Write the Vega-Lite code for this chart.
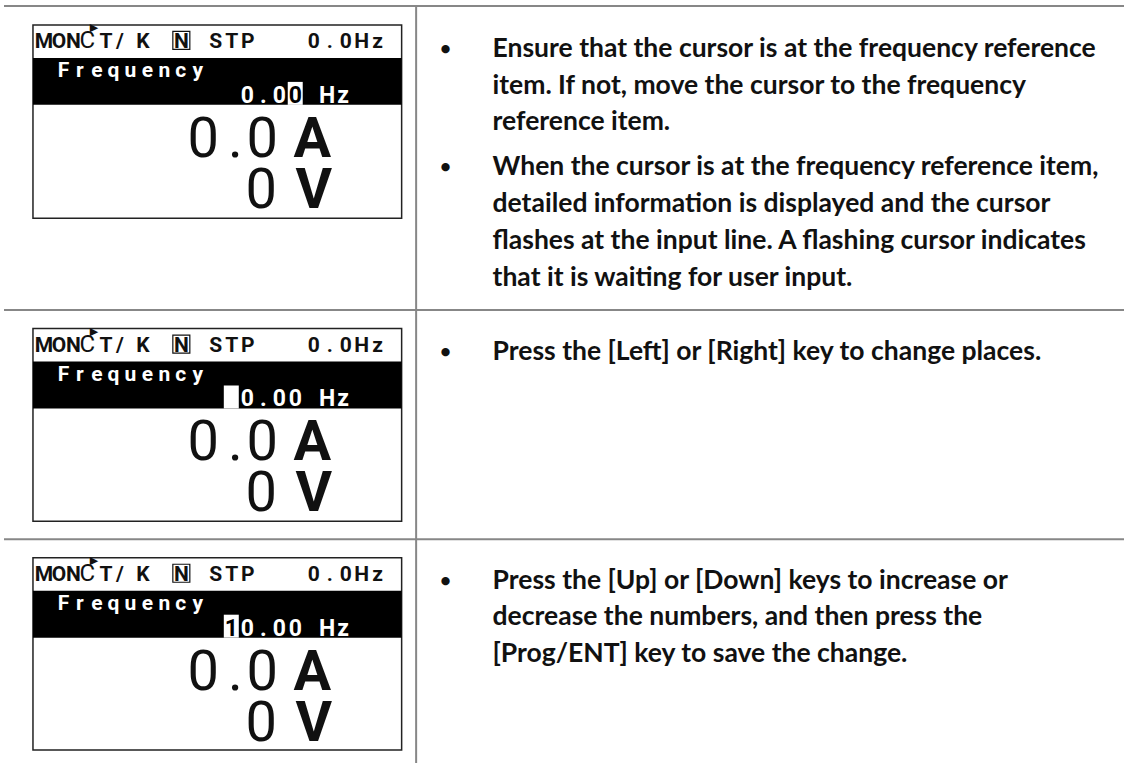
{
  "$schema": "https://vega.github.io/schema/vega-lite/v6.json",
  "width": 1125,
  "height": 764,
  "autosize": {"type": "fit", "contains": "padding"},
  "padding": 0,
  "background": "white",
  "config": {"view": {"stroke": null}},
  "datasets": {
    "boxes": [
      {"x": 33, "x2": 402, "y": 25, "y2": 218.5},
      {"x": 33, "x2": 402, "y": 329, "y2": 522},
      {"x": 33, "x2": 402, "y": 558.5, "y2": 751}
    ],
    "bands": [
      {"x": 33, "x2": 402, "y": 58, "y2": 105},
      {"x": 33, "x2": 402, "y": 362, "y2": 409},
      {"x": 33, "x2": 402, "y": 591.5, "y2": 638.5}
    ],
    "nbox": [
      {"x": 173, "x2": 190, "y": 31.5, "y2": 49.5},
      {"x": 173, "x2": 190, "y": 335.5, "y2": 353.5},
      {"x": 173, "x2": 190, "y": 565, "y2": 583}
    ],
    "cursor": [
      {"x": 288, "x2": 303, "y": 82, "y2": 105},
      {"x": 224, "x2": 239, "y": 386, "y2": 409},
      {"x": 224, "x2": 239, "y": 615.5, "y2": 638.5}
    ],
    "lines": [
      {"x": 4, "x2": 1125, "y": 6, "y2": 6},
      {"x": 4, "x2": 1125, "y": 310.5, "y2": 310.5},
      {"x": 4, "x2": 1125, "y": 540, "y2": 540},
      {"x": 416.5, "x2": 416.5, "y": 6, "y2": 764}
    ],
    "lcd": [
      {"k": "hdr", "c": "M", "x": 44, "y": 48.5},
      {"k": "hdr", "c": "O", "x": 59, "y": 48.5},
      {"k": "hdr", "c": "N", "x": 73.5, "y": 48.5},
      {"k": "arc", "c": "C", "x": 87.5, "y": 48.5},
      {"k": "tri", "c": "▶", "x": 94, "y": 28},
      {"k": "hdr", "c": "T", "x": 106, "y": 48.5},
      {"k": "hdr", "c": "/", "x": 120, "y": 48.5},
      {"k": "hdr", "c": "K", "x": 143, "y": 48.5},
      {"k": "hdr", "c": "N", "x": 181.5, "y": 48.5},
      {"k": "hdr", "c": "S", "x": 216, "y": 48.5},
      {"k": "hdr", "c": "T", "x": 232, "y": 48.5},
      {"k": "hdr", "c": "P", "x": 248, "y": 48.5},
      {"k": "hdr", "c": "0", "x": 314, "y": 48.5},
      {"k": "hdr", "c": ".", "x": 330, "y": 48.5},
      {"k": "hdr", "c": "0", "x": 346, "y": 48.5},
      {"k": "hdr", "c": "H", "x": 362, "y": 48.5},
      {"k": "hdr", "c": "z", "x": 378, "y": 48.5},
      {"k": "freq", "c": "F", "x": 63.5, "y": 77.5},
      {"k": "freq", "c": "r", "x": 80, "y": 77.5},
      {"k": "freq", "c": "e", "x": 97, "y": 77.5},
      {"k": "freq", "c": "q", "x": 113.5, "y": 77.5},
      {"k": "freq", "c": "u", "x": 130.5, "y": 77.5},
      {"k": "freq", "c": "e", "x": 147.5, "y": 77.5},
      {"k": "freq", "c": "n", "x": 164.5, "y": 77.5},
      {"k": "freq", "c": "c", "x": 181, "y": 77.5},
      {"k": "freq", "c": "y", "x": 198, "y": 77.5},
      {"k": "val", "c": "0", "x": 247.5, "y": 103},
      {"k": "val", "c": ".", "x": 263.5, "y": 103},
      {"k": "val", "c": "0", "x": 279.5, "y": 103},
      {"k": "cur", "c": "0", "x": 295.5, "y": 103},
      {"k": "val", "c": "H", "x": 327.5, "y": 103},
      {"k": "val", "c": "z", "x": 343.5, "y": 103},
      {"k": "big", "c": "0", "x": 203.5, "y": 157},
      {"k": "big", "c": ".", "x": 235.5, "y": 157},
      {"k": "big", "c": "0", "x": 262.5, "y": 157},
      {"k": "unit", "c": "A", "x": 312.5, "y": 157},
      {"k": "big", "c": "0", "x": 261.5, "y": 208},
      {"k": "unit", "c": "V", "x": 314, "y": 208},

      {"k": "hdr", "c": "M", "x": 44, "y": 352.5},
      {"k": "hdr", "c": "O", "x": 59, "y": 352.5},
      {"k": "hdr", "c": "N", "x": 73.5, "y": 352.5},
      {"k": "arc", "c": "C", "x": 87.5, "y": 352.5},
      {"k": "tri", "c": "▶", "x": 94, "y": 332},
      {"k": "hdr", "c": "T", "x": 106, "y": 352.5},
      {"k": "hdr", "c": "/", "x": 120, "y": 352.5},
      {"k": "hdr", "c": "K", "x": 143, "y": 352.5},
      {"k": "hdr", "c": "N", "x": 181.5, "y": 352.5},
      {"k": "hdr", "c": "S", "x": 216, "y": 352.5},
      {"k": "hdr", "c": "T", "x": 232, "y": 352.5},
      {"k": "hdr", "c": "P", "x": 248, "y": 352.5},
      {"k": "hdr", "c": "0", "x": 314, "y": 352.5},
      {"k": "hdr", "c": ".", "x": 330, "y": 352.5},
      {"k": "hdr", "c": "0", "x": 346, "y": 352.5},
      {"k": "hdr", "c": "H", "x": 362, "y": 352.5},
      {"k": "hdr", "c": "z", "x": 378, "y": 352.5},
      {"k": "freq", "c": "F", "x": 63.5, "y": 381.5},
      {"k": "freq", "c": "r", "x": 80, "y": 381.5},
      {"k": "freq", "c": "e", "x": 97, "y": 381.5},
      {"k": "freq", "c": "q", "x": 113.5, "y": 381.5},
      {"k": "freq", "c": "u", "x": 130.5, "y": 381.5},
      {"k": "freq", "c": "e", "x": 147.5, "y": 381.5},
      {"k": "freq", "c": "n", "x": 164.5, "y": 381.5},
      {"k": "freq", "c": "c", "x": 181, "y": 381.5},
      {"k": "freq", "c": "y", "x": 198, "y": 381.5},
      {"k": "val", "c": "0", "x": 247.5, "y": 407},
      {"k": "val", "c": ".", "x": 263.5, "y": 407},
      {"k": "val", "c": "0", "x": 279.5, "y": 407},
      {"k": "val", "c": "0", "x": 295.5, "y": 407},
      {"k": "val", "c": "H", "x": 327.5, "y": 407},
      {"k": "val", "c": "z", "x": 343.5, "y": 407},
      {"k": "big", "c": "0", "x": 203.5, "y": 461},
      {"k": "big", "c": ".", "x": 235.5, "y": 461},
      {"k": "big", "c": "0", "x": 262.5, "y": 461},
      {"k": "unit", "c": "A", "x": 312.5, "y": 461},
      {"k": "big", "c": "0", "x": 261.5, "y": 512},
      {"k": "unit", "c": "V", "x": 314, "y": 512},

      {"k": "hdr", "c": "M", "x": 44, "y": 582},
      {"k": "hdr", "c": "O", "x": 59, "y": 582},
      {"k": "hdr", "c": "N", "x": 73.5, "y": 582},
      {"k": "arc", "c": "C", "x": 87.5, "y": 582},
      {"k": "tri", "c": "▶", "x": 94, "y": 561.5},
      {"k": "hdr", "c": "T", "x": 106, "y": 582},
      {"k": "hdr", "c": "/", "x": 120, "y": 582},
      {"k": "hdr", "c": "K", "x": 143, "y": 582},
      {"k": "hdr", "c": "N", "x": 181.5, "y": 582},
      {"k": "hdr", "c": "S", "x": 216, "y": 582},
      {"k": "hdr", "c": "T", "x": 232, "y": 582},
      {"k": "hdr", "c": "P", "x": 248, "y": 582},
      {"k": "hdr", "c": "0", "x": 314, "y": 582},
      {"k": "hdr", "c": ".", "x": 330, "y": 582},
      {"k": "hdr", "c": "0", "x": 346, "y": 582},
      {"k": "hdr", "c": "H", "x": 362, "y": 582},
      {"k": "hdr", "c": "z", "x": 378, "y": 582},
      {"k": "freq", "c": "F", "x": 63.5, "y": 611},
      {"k": "freq", "c": "r", "x": 80, "y": 611},
      {"k": "freq", "c": "e", "x": 97, "y": 611},
      {"k": "freq", "c": "q", "x": 113.5, "y": 611},
      {"k": "freq", "c": "u", "x": 130.5, "y": 611},
      {"k": "freq", "c": "e", "x": 147.5, "y": 611},
      {"k": "freq", "c": "n", "x": 164.5, "y": 611},
      {"k": "freq", "c": "c", "x": 181, "y": 611},
      {"k": "freq", "c": "y", "x": 198, "y": 611},
      {"k": "cur", "c": "1", "x": 231.5, "y": 636.5},
      {"k": "val", "c": "0", "x": 247.5, "y": 636.5},
      {"k": "val", "c": ".", "x": 263.5, "y": 636.5},
      {"k": "val", "c": "0", "x": 279.5, "y": 636.5},
      {"k": "val", "c": "0", "x": 295.5, "y": 636.5},
      {"k": "val", "c": "H", "x": 327.5, "y": 636.5},
      {"k": "val", "c": "z", "x": 343.5, "y": 636.5},
      {"k": "big", "c": "0", "x": 203.5, "y": 690.5},
      {"k": "big", "c": ".", "x": 235.5, "y": 690.5},
      {"k": "big", "c": "0", "x": 262.5, "y": 690.5},
      {"k": "unit", "c": "A", "x": 312.5, "y": 690.5},
      {"k": "big", "c": "0", "x": 261.5, "y": 741.5},
      {"k": "unit", "c": "V", "x": 314, "y": 741.5}
    ],
    "notes": [
      {"k": "b", "t": "•", "x": 446, "y": 55},
      {"k": "t", "t": "Ensure that the cursor is at the frequency reference", "x": 493, "y": 57},
      {"k": "t", "t": "item. If not, move the cursor to the frequency", "x": 493, "y": 94},
      {"k": "t", "t": "reference item.", "x": 493, "y": 130},
      {"k": "b", "t": "•", "x": 446, "y": 173},
      {"k": "t", "t": "When the cursor is at the frequency reference item,", "x": 493, "y": 175},
      {"k": "t", "t": "detailed information is displayed and the cursor", "x": 493, "y": 212},
      {"k": "t", "t": "flashes at the input line. A flashing cursor indicates", "x": 493, "y": 249},
      {"k": "t", "t": "that it is waiting for user input.", "x": 493, "y": 286},
      {"k": "b", "t": "•", "x": 446, "y": 358},
      {"k": "t", "t": "Press the [Left] or [Right] key to change places.", "x": 493, "y": 360},
      {"k": "b", "t": "•", "x": 446, "y": 588},
      {"k": "t", "t": "Press the [Up] or [Down] keys to increase or", "x": 493, "y": 590},
      {"k": "t", "t": "decrease the numbers, and then press the", "x": 493, "y": 626},
      {"k": "t", "t": "[Prog/ENT] key to save the change.", "x": 493, "y": 663}
    ]
  },
  "layer": [
    {
      "data": {"name": "boxes"},
      "mark": {"type": "rect", "fill": "white", "stroke": "#222222", "strokeWidth": 1.5},
      "encoding": {
        "x": {"field": "x", "type": "quantitative", "scale": {"domain": [0, 1125], "nice": false, "zero": false}, "axis": null},
        "x2": {"field": "x2"},
        "y": {"field": "y", "type": "quantitative", "scale": {"domain": [0, 764], "nice": false, "zero": false, "reverse": true}, "axis": null},
        "y2": {"field": "y2"}
      }
    },
    {
      "data": {"name": "bands"},
      "mark": {"type": "rect", "fill": "black"},
      "encoding": {
        "x": {"field": "x", "type": "quantitative", "scale": {"domain": [0, 1125], "nice": false, "zero": false}, "axis": null},
        "x2": {"field": "x2"},
        "y": {"field": "y", "type": "quantitative", "scale": {"domain": [0, 764], "nice": false, "zero": false, "reverse": true}, "axis": null},
        "y2": {"field": "y2"}
      }
    },
    {
      "data": {"name": "nbox"},
      "mark": {"type": "rect", "fill": null, "fillOpacity": 0, "stroke": "#111111", "strokeWidth": 1.2},
      "encoding": {
        "x": {"field": "x", "type": "quantitative", "scale": {"domain": [0, 1125], "nice": false, "zero": false}, "axis": null},
        "x2": {"field": "x2"},
        "y": {"field": "y", "type": "quantitative", "scale": {"domain": [0, 764], "nice": false, "zero": false, "reverse": true}, "axis": null},
        "y2": {"field": "y2"}
      }
    },
    {
      "data": {"name": "cursor"},
      "mark": {"type": "rect", "fill": "white"},
      "encoding": {
        "x": {"field": "x", "type": "quantitative", "scale": {"domain": [0, 1125], "nice": false, "zero": false}, "axis": null},
        "x2": {"field": "x2"},
        "y": {"field": "y", "type": "quantitative", "scale": {"domain": [0, 764], "nice": false, "zero": false, "reverse": true}, "axis": null},
        "y2": {"field": "y2"}
      }
    },
    {
      "data": {"name": "lines"},
      "mark": {"type": "rule", "color": "#878787", "strokeWidth": 2},
      "encoding": {
        "x": {"field": "x", "type": "quantitative", "scale": {"domain": [0, 1125], "nice": false, "zero": false}, "axis": null},
        "x2": {"field": "x2"},
        "y": {"field": "y", "type": "quantitative", "scale": {"domain": [0, 764], "nice": false, "zero": false, "reverse": true}, "axis": null},
        "y2": {"field": "y2"}
      }
    },
    {
      "data": {"name": "lcd"},
      "transform": [{"filter": "datum.k == 'hdr'"}],
      "mark": {"type": "text", "align": "center", "baseline": "alphabetic", "font": "'Liberation Sans Narrow', Roboto, sans-serif", "fontWeight": "bold", "fontSize": 21, "color": "#111111"},
      "encoding": {
        "x": {"field": "x", "type": "quantitative", "scale": {"domain": [0, 1125], "nice": false, "zero": false}, "axis": null},
        "y": {"field": "y", "type": "quantitative", "scale": {"domain": [0, 764], "nice": false, "zero": false, "reverse": true}, "axis": null},
        "text": {"field": "c"}
      }
    },
    {
      "data": {"name": "lcd"},
      "transform": [{"filter": "datum.k == 'arc'"}],
      "mark": {"type": "text", "align": "center", "baseline": "alphabetic", "font": "'Liberation Sans Narrow', Roboto, sans-serif", "fontWeight": "normal", "fontSize": 24, "color": "#111111"},
      "encoding": {
        "x": {"field": "x", "type": "quantitative", "scale": {"domain": [0, 1125], "nice": false, "zero": false}, "axis": null},
        "y": {"field": "y", "type": "quantitative", "scale": {"domain": [0, 764], "nice": false, "zero": false, "reverse": true}, "axis": null},
        "text": {"field": "c"}
      }
    },
    {
      "data": {"name": "lcd"},
      "transform": [{"filter": "datum.k == 'tri'"}],
      "mark": {"type": "text", "align": "center", "baseline": "middle", "font": "DejaVu Sans", "fontSize": 11, "color": "#111111"},
      "encoding": {
        "x": {"field": "x", "type": "quantitative", "scale": {"domain": [0, 1125], "nice": false, "zero": false}, "axis": null},
        "y": {"field": "y", "type": "quantitative", "scale": {"domain": [0, 764], "nice": false, "zero": false, "reverse": true}, "axis": null},
        "text": {"field": "c"}
      }
    },
    {
      "data": {"name": "lcd"},
      "transform": [{"filter": "datum.k == 'freq'"}],
      "mark": {"type": "text", "align": "center", "baseline": "alphabetic", "font": "'Liberation Sans Narrow', Roboto, sans-serif", "fontWeight": "bold", "fontSize": 21, "color": "white"},
      "encoding": {
        "x": {"field": "x", "type": "quantitative", "scale": {"domain": [0, 1125], "nice": false, "zero": false}, "axis": null},
        "y": {"field": "y", "type": "quantitative", "scale": {"domain": [0, 764], "nice": false, "zero": false, "reverse": true}, "axis": null},
        "text": {"field": "c"}
      }
    },
    {
      "data": {"name": "lcd"},
      "transform": [{"filter": "datum.k == 'val'"}],
      "mark": {"type": "text", "align": "center", "baseline": "alphabetic", "font": "'Liberation Sans Narrow', Roboto, sans-serif", "fontWeight": "bold", "fontSize": 23, "color": "white"},
      "encoding": {
        "x": {"field": "x", "type": "quantitative", "scale": {"domain": [0, 1125], "nice": false, "zero": false}, "axis": null},
        "y": {"field": "y", "type": "quantitative", "scale": {"domain": [0, 764], "nice": false, "zero": false, "reverse": true}, "axis": null},
        "text": {"field": "c"}
      }
    },
    {
      "data": {"name": "lcd"},
      "transform": [{"filter": "datum.k == 'cur'"}],
      "mark": {"type": "text", "align": "center", "baseline": "alphabetic", "font": "'Liberation Sans Narrow', Roboto, sans-serif", "fontWeight": "bold", "fontSize": 23, "color": "black"},
      "encoding": {
        "x": {"field": "x", "type": "quantitative", "scale": {"domain": [0, 1125], "nice": false, "zero": false}, "axis": null},
        "y": {"field": "y", "type": "quantitative", "scale": {"domain": [0, 764], "nice": false, "zero": false, "reverse": true}, "axis": null},
        "text": {"field": "c"}
      }
    },
    {
      "data": {"name": "lcd"},
      "transform": [{"filter": "datum.k == 'big'"}],
      "mark": {"type": "text", "align": "center", "baseline": "alphabetic", "font": "'Liberation Sans Narrow', Roboto, sans-serif", "fontWeight": "normal", "fontSize": 56, "color": "#111111"},
      "encoding": {
        "x": {"field": "x", "type": "quantitative", "scale": {"domain": [0, 1125], "nice": false, "zero": false}, "axis": null},
        "y": {"field": "y", "type": "quantitative", "scale": {"domain": [0, 764], "nice": false, "zero": false, "reverse": true}, "axis": null},
        "text": {"field": "c"}
      }
    },
    {
      "data": {"name": "lcd"},
      "transform": [{"filter": "datum.k == 'unit'"}],
      "mark": {"type": "text", "align": "center", "baseline": "alphabetic", "font": "'Liberation Sans Narrow', Roboto, sans-serif", "fontWeight": "bold", "fontSize": 56, "color": "#111111"},
      "encoding": {
        "x": {"field": "x", "type": "quantitative", "scale": {"domain": [0, 1125], "nice": false, "zero": false}, "axis": null},
        "y": {"field": "y", "type": "quantitative", "scale": {"domain": [0, 764], "nice": false, "zero": false, "reverse": true}, "axis": null},
        "text": {"field": "c"}
      }
    },
    {
      "data": {"name": "notes"},
      "transform": [{"filter": "datum.k == 't'"}],
      "mark": {"type": "text", "align": "left", "baseline": "alphabetic", "font": "Lato", "fontWeight": "bold", "fontSize": 26.5, "color": "#111111"},
      "encoding": {
        "x": {"field": "x", "type": "quantitative", "scale": {"domain": [0, 1125], "nice": false, "zero": false}, "axis": null},
        "y": {"field": "y", "type": "quantitative", "scale": {"domain": [0, 764], "nice": false, "zero": false, "reverse": true}, "axis": null},
        "text": {"field": "t"}
      }
    },
    {
      "data": {"name": "notes"},
      "transform": [{"filter": "datum.k == 'b'"}],
      "mark": {"type": "text", "align": "center", "baseline": "alphabetic", "font": "Lato", "fontWeight": "bold", "fontSize": 19, "color": "#111111"},
      "encoding": {
        "x": {"field": "x", "type": "quantitative", "scale": {"domain": [0, 1125], "nice": false, "zero": false}, "axis": null},
        "y": {"field": "y", "type": "quantitative", "scale": {"domain": [0, 764], "nice": false, "zero": false, "reverse": true}, "axis": null},
        "text": {"field": "t"}
      }
    }
  ]
}
